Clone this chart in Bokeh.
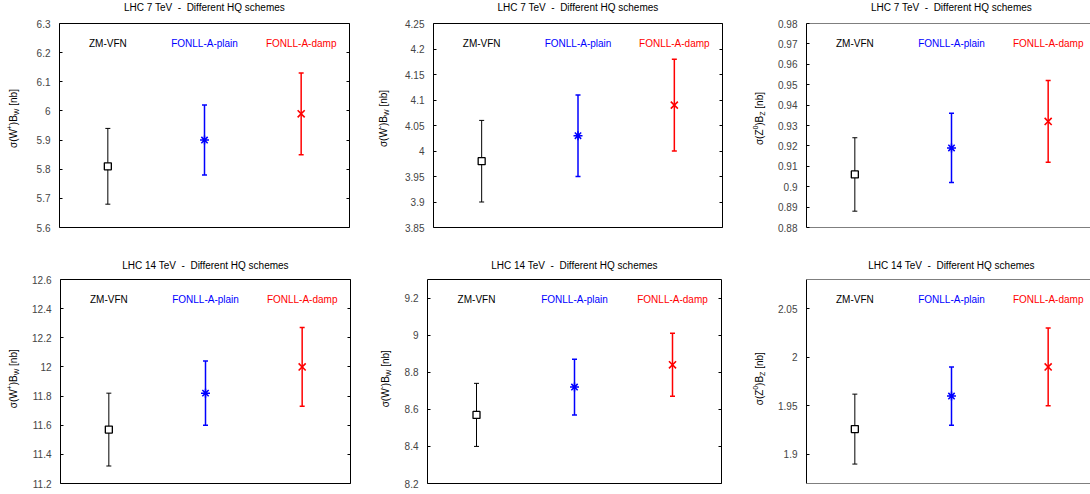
import math
from bokeh.plotting import figure
from bokeh.models import (Range1d, LinearAxis, FixedTicker, CustomJSTickFormatter,
                          Whisker, ColumnDataSource, Label, TeeHead, Span)
from bokeh.layouts import column, row
from bokeh.embed import file_html
from bokeh.resources import INLINE

FONT = "Liberation Sans"

# ---------------- data ----------------
schemes = ["ZM-VFN", "FONLL-A-plain", "FONLL-A-damp"]
scheme_x = [1, 2, 3]
scheme_colors = ["black", "#0000ff", "#ff0000"]
scheme_markers = ["square", "asterisk", "x"]

title_7 = "LHC 7 TeV \u00a0-\u00a0 Different HQ schemes"
title_14 = "LHC 14 TeV \u00a0-\u00a0 Different HQ schemes"

# LHC 7 TeV, sigma(W+) B_W [nb]
wp7_central = [5.81, 5.90, 5.99]
wp7_low = [5.68, 5.78, 5.85]
wp7_high = [5.94, 6.02, 6.13]
wp7_ylim = [5.6, 6.3]
wp7_ticks = [5.6, 5.7, 5.8, 5.9, 6.0, 6.1, 6.2, 6.3]

# LHC 7 TeV, sigma(W-) B_W [nb]
wm7_central = [3.98, 4.03, 4.09]
wm7_low = [3.90, 3.95, 4.00]
wm7_high = [4.06, 4.11, 4.18]
wm7_ylim = [3.85, 4.25]
wm7_ticks = [3.85, 3.9, 3.95, 4.0, 4.05, 4.1, 4.15, 4.2, 4.25]

# LHC 7 TeV, sigma(Z0) B_Z [nb]
z7_central = [0.906, 0.919, 0.932]
z7_low = [0.888, 0.902, 0.912]
z7_high = [0.924, 0.936, 0.952]
z7_ylim = [0.88, 0.98]
z7_ticks = [0.88, 0.89, 0.90, 0.91, 0.92, 0.93, 0.94, 0.95, 0.96, 0.97, 0.98]

# LHC 14 TeV, sigma(W+) B_W [nb]
wp14_central = [11.57, 11.82, 12.00]
wp14_low = [11.32, 11.60, 11.73]
wp14_high = [11.82, 12.04, 12.27]
wp14_ylim = [11.2, 12.6]
wp14_ticks = [11.2, 11.4, 11.6, 11.8, 12.0, 12.2, 12.4, 12.6]

# LHC 14 TeV, sigma(W-) B_W [nb]
wm14_central = [8.57, 8.72, 8.84]
wm14_low = [8.40, 8.57, 8.67]
wm14_high = [8.74, 8.87, 9.01]
wm14_ylim = [8.2, 9.3]
wm14_ticks = [8.2, 8.4, 8.6, 8.8, 9.0, 9.2]

# LHC 14 TeV, sigma(Z0) B_Z [nb]
z14_central = [1.926, 1.960, 1.990]
z14_low = [1.890, 1.930, 1.950]
z14_high = [1.962, 1.990, 2.030]
z14_ylim = [1.87, 2.08]
z14_ticks = [1.9, 1.95, 2.0, 2.05]

# y-label pieces: boson, charge (superscript), subscript
label_wp = ["W", "+", "W"]
label_wm = ["W", "-", "W"]
label_z = ["Z", "0", "Z"]

# ---------------- drawing ----------------
ADV = {"σ": 0.60, "(": 0.333, ")": 0.333, "W": 0.944, "Z": 0.611, "B": 0.667,
       "+": 0.584, "-": 0.333, "0": 0.556, " ": 0.278, "\u00a0": 0.278, "[": 0.278,
       "]": 0.278, "n": 0.556, "b": 0.556}

TOTAL_W = 1090
FRAME_H = 204
NOMINAL_FRAME_W = 290


def text_w(s, size):
    return sum(ADV.get(c, 0.556) for c in s) * size


def blank_fig(width, height):
    p = figure(width=width, height=height, output_backend="svg", toolbar_location=None,
               x_range=Range1d(0, width), y_range=Range1d(0, height),
               x_axis_location=None, y_axis_location=None,
               min_border=0, min_border_left=0, min_border_right=0,
               min_border_top=0, min_border_bottom=0)
    p.grid.visible = False
    p.outline_line_color = None
    p.background_fill_color = "white"
    p.border_fill_color = "white"
    return p


def make_title_strip(text, centers, height, y_from_top):
    p = blank_fig(TOTAL_W, height)
    for cx in centers:
        p.add_layout(Label(x=cx, y=height - y_from_top, text=text, text_align="center",
                           text_baseline="middle", text_font=FONT, text_font_size="10px",
                           text_color="black"))
    return p


def make_label_fig(pieces, width, height, bt):
    """Narrow figure holding the rotated y-axis title with sub/superscripts."""
    p = blank_fig(width, height)
    boson, charge, sub = pieces
    main, small = 10, 7
    parts = [("σ(" + boson, main, 0), (charge, small, -4), (")B", main, 0),
             (sub, small, 2.5), ("\u00a0[nb]", main, 0)]
    total = sum(text_w(t, s) for t, s, _ in parts)
    yc = height - (bt + FRAME_H / 2)
    xc = width / 2
    pos = -total / 2
    for t, s, shift in parts:
        p.add_layout(Label(x=xc, y=yc, x_offset=shift, y_offset=pos,
                           text=t, angle=math.pi / 2, text_align="left",
                           text_baseline="middle", text_font=FONT,
                           text_font_size=f"{s}px", text_color="black"))
        pos += text_w(t, s)
    return p


def make_panel(central, low, high, ylim, ticks, width, height,
               bl, br, bt, bb, full_frame=True):
    frame_w = width - bl - br
    x_start = 0.5
    x_end = 0.5 + 3.0 * frame_w / NOMINAL_FRAME_W if not full_frame else 3.5
    p = figure(width=width, height=height, output_backend="svg", toolbar_location=None,
               x_range=Range1d(x_start, x_end), y_range=Range1d(ylim[0], ylim[1]),
               x_axis_location=None, min_border_left=bl, min_border_right=br,
               min_border_top=bt, min_border_bottom=bb)
    p.grid.visible = False
    p.background_fill_color = "white"
    p.border_fill_color = "white"

    fmt = CustomJSTickFormatter(code="return String(Number(tick.toFixed(4)));")
    ya = p.yaxis[0]
    ya.ticker = FixedTicker(ticks=ticks)
    ya.formatter = fmt
    ya.major_tick_in = 3
    ya.major_tick_out = 0
    ya.minor_tick_line_color = None
    ya.major_label_text_font = FONT
    ya.major_label_text_font_size = "10px"
    ya.major_label_standoff = 9
    ya.axis_line_color = "black" if not full_frame else None

    if full_frame:
        p.outline_line_color = "black"
        p.outline_line_width = 1
        p.outline_line_alpha = 1
        ra = LinearAxis(ticker=FixedTicker(ticks=ticks),
                        formatter=CustomJSTickFormatter(code="return '';"))
        ra.major_tick_in = 3
        ra.major_tick_out = 0
        ra.minor_tick_line_color = None
        ra.axis_line_color = None
        ra.major_label_standoff = 0
        p.add_layout(ra, "right")
    else:
        p.outline_line_color = None
        p.add_layout(Span(location=ylim[1], dimension="width", line_color="black", line_width=1))
        p.add_layout(Span(location=ylim[0], dimension="width", line_color="black", line_width=1))

    for i in range(3):
        col = scheme_colors[i]
        lw = 1.0 if i == 0 else 1.5
        src = ColumnDataSource(dict(x=[scheme_x[i]], y=[central[i]], lo=[low[i]], hi=[high[i]]))
        w = Whisker(base="x", lower="lo", upper="hi", source=src, dimension="height",
                    line_color=col, line_width=lw,
                    upper_head=TeeHead(size=5, line_color=col, line_width=lw),
                    lower_head=TeeHead(size=5, line_color=col, line_width=lw))
        p.add_layout(w)
        if scheme_markers[i] == "square":
            p.scatter("x", "y", source=src, marker="square", size=7, line_color=col,
                      fill_color="white", line_width=1.3)
        elif scheme_markers[i] == "x":
            p.scatter("x", "y", source=src, marker="x", size=10,
                      line_color=col, line_width=1.6)
        else:
            p.scatter("x", "y", source=src, marker="asterisk", size=9,
                      line_color=col, line_width=1.5)
        p.add_layout(Label(x=scheme_x[i], y=ylim[0] + 0.9 * (ylim[1] - ylim[0]),
                           text=schemes[i], text_align="center", text_baseline="middle",
                           text_font=FONT, text_font_size="10px", text_color=col))
    return p


def build_row(specs, height, bt, bb):
    figs, centers = [], []
    x0 = 0
    for (label_pieces, label_w, data, pw, bl, br, full) in specs:
        figs.append(make_label_fig(label_pieces, label_w, height, bt))
        x0 += label_w
        central, low, high, ylim, ticks = data
        figs.append(make_panel(central, low, high, ylim, ticks, pw, height, bl, br, bt, bb, full))
        fw = (pw - bl - br) if full else NOMINAL_FRAME_W
        centers.append(x0 + bl + fw / 2)
        x0 += pw
    return figs, centers


row1_specs = [
    (label_wp, 26, (wp7_central, wp7_low, wp7_high, wp7_ylim, wp7_ticks), 346, 33, 23, True),
    (label_wm, 22, (wm7_central, wm7_low, wm7_high, wm7_ylim, wm7_ticks), 354, 39, 26, True),
    (label_z, 22, (z7_central, z7_low, z7_high, z7_ylim, z7_ticks), 320, 36, 0, False),
]
row2_specs = [
    (label_wp, 26, (wp14_central, wp14_low, wp14_high, wp14_ylim, wp14_ticks), 348, 34, 24, True),
    (label_wm, 22, (wm14_central, wm14_low, wm14_high, wm14_ylim, wm14_ticks), 352, 31, 27, True),
    (label_z, 22, (z14_central, z14_low, z14_high, z14_ylim, z14_ticks), 320, 36, 0, False),
]

figs1, centers1 = build_row(row1_specs, 234, 7, 23)
figs2, centers2 = build_row(row2_specs, 220, 5, 11)
strip1 = make_title_strip(title_7, centers1, 16, 7)
strip2 = make_title_strip(title_14, centers2, 24, 15)

layout = column(strip1, row(*figs1), strip2, row(*figs2))
open("out.html", "w").write(file_html(layout, INLINE))
